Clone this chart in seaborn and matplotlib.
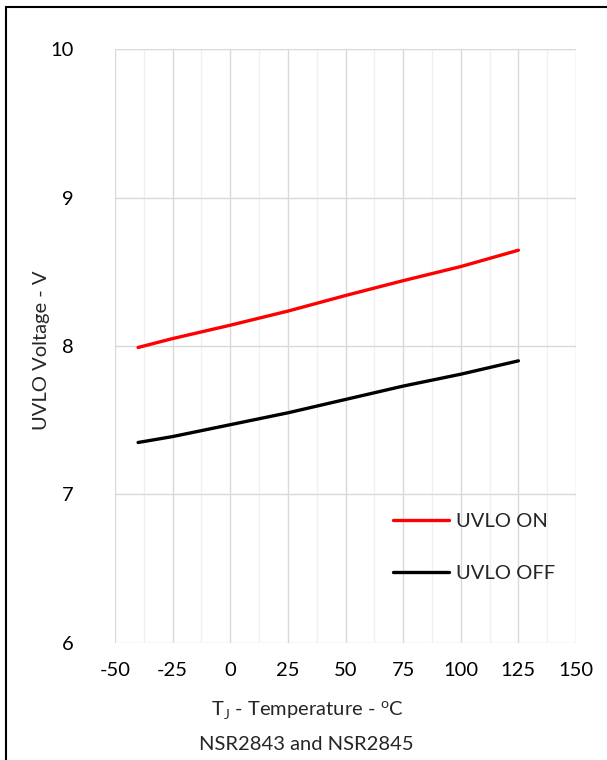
import matplotlib
matplotlib.use("Agg")
import matplotlib.pyplot as plt
from matplotlib.patches import Rectangle
from matplotlib.ticker import MultipleLocator
import seaborn as sns
import pandas as pd

# Junction temperature (°C) and UVLO thresholds (V)
temperature = [-40, -25, 0, 25, 50, 75, 100, 125]
uvlo_on = [7.99, 8.05, 8.14, 8.235, 8.34, 8.44, 8.535, 8.645]
uvlo_off = [7.35, 7.39, 7.47, 7.55, 7.64, 7.73, 7.81, 7.90]
series_names = ["UVLO ON", "UVLO OFF"]
x_ticks = [-50, -25, 0, 25, 50, 75, 100, 125, 150]
y_ticks = [6, 7, 8, 9, 10]

df = pd.concat([
    pd.DataFrame({"T": temperature, "V": uvlo_on, "series": series_names[0]}),
    pd.DataFrame({"T": temperature, "V": uvlo_off, "series": series_names[1]}),
])

sns.set_theme(style="white")
plt.rcParams["font.family"] = ["Lato", "DejaVu Sans"]
plt.rcParams["mathtext.fontset"] = "custom"
plt.rcParams["mathtext.rm"] = "Lato"
plt.rcParams["axes.unicode_minus"] = False

FS = 14.5

fig = plt.figure(figsize=(6.07, 7.6), dpi=100)
ax = fig.add_axes([0.1895, 0.154, 0.7595, 0.7815])

sns.lineplot(data=df, x="T", y="V", hue="series",
             palette={"UVLO ON": "#ff0000", "UVLO OFF": "#000000"},
             linewidth=2.4, ax=ax, legend=True)

ax.set_xlim(-50, 150)
ax.set_ylim(6, 10)
ax.set_xticks(x_ticks)
ax.set_yticks(y_ticks)
ax.xaxis.set_minor_locator(MultipleLocator(12.5))
ax.grid(which="major", axis="both", color="#d9d9d9", linewidth=1.0)
ax.grid(which="minor", axis="x", color="#f0f0f0", linewidth=1.0)
ax.set_axisbelow(True)
for s in ax.spines.values():
    s.set_visible(False)
ax.tick_params(axis="both", which="both", length=0, labelsize=FS, colors="#000000")
ax.tick_params(axis="x", pad=14)
ax.tick_params(axis="y", pad=30)

ax.set_xlabel("T$_\\mathrm{J}$ - Temperature - $^\\mathrm{o}$C", fontsize=FS, va="center")
ax.xaxis.set_label_coords(0.417, -0.113)
ax.set_ylabel("UVLO Voltage - V", fontsize=FS, va="center")
ax.yaxis.set_label_coords(-0.16, 0.493)

handles, labels = ax.get_legend_handles_labels()
leg = ax.legend(handles, labels, loc="upper left", bbox_to_anchor=(0.603, 0.219),
                frameon=False, fontsize=FS, handlelength=2.8, handletextpad=0.35,
                labelspacing=1.75, borderpad=0, borderaxespad=0)
for h in leg.get_lines():
    h.set_linewidth(2.4)

fig.text(0.505, 1 - 745 / 760, "NSR2843 and NSR2845", ha="center", va="center", fontsize=FS)

fig.patches.append(Rectangle((6 / 607, -0.05), 1.2, 1 - 7 / 760 + 0.05,
                             transform=fig.transFigure, fill=False,
                             edgecolor="black", linewidth=1.5))

fig.savefig("out.png", dpi=100)
